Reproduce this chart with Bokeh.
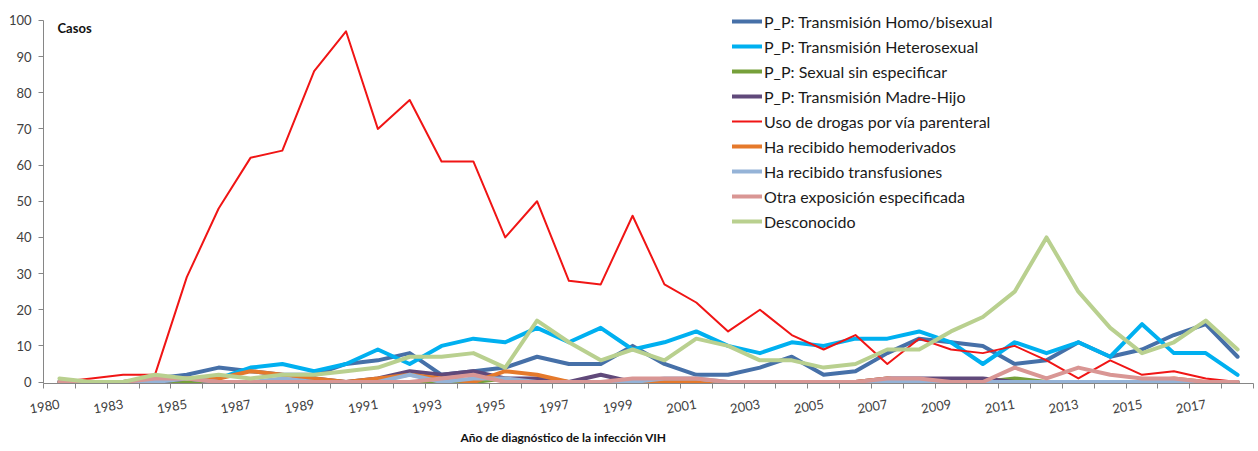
from bokeh.plotting import figure
from bokeh.models import Range1d, FixedTicker, Legend, LegendItem, Label, Title
from bokeh.embed import file_html
from bokeh.resources import INLINE

years = ["1980", "1982", "1983", "1984", "1985", "1986", "1987", "1988", "1989", "1990",
         "1991", "1992", "1993", "1994", "1995", "1996", "1997", "1998", "1999", "2000",
         "2001", "2002", "2003", "2004", "2005", "2006", "2007", "2008", "2009", "2010",
         "2011", "2012", "2013", "2014", "2015", "2016", "2017", "2018"]

homo_bisexual = [0, 0, 0, 1, 2, 4, 3, 2, 2, 5, 6, 8, 2, 3, 4, 7, 5, 5, 10, 5,
                 2, 2, 4, 7, 2, 3, 8, 12, 11, 10, 5, 6, 11, 7, 9, 13, 16, 7]
heterosexual = [0, 0, 0, 0, 0, 1, 4, 5, 3, 5, 9, 5, 10, 12, 11, 15, 11, 15, 9, 11,
                14, 10, 8, 11, 10, 12, 12, 14, 11, 5, 11, 8, 11, 7, 16, 8, 8, 2]
sexual_sin_esp = [0, 0, 0, 0, 0, 0, 0, 0, 0, 0, 0, 0, 0, 0, 1, 0, 0, 0, 0, 0,
                  0, 0, 0, 0, 0, 0, 0, 0, 0, 0, 1, 0, 0, 0, 0, 0, 0, 0]
madre_hijo = [0, 0, 0, 0, 1, 0, 0, 0, 1, 0, 1, 3, 2, 3, 1, 1, 0, 2, 0, 0,
              0, 0, 0, 0, 0, 0, 1, 1, 1, 1, 0, 0, 0, 0, 0, 0, 0, 0]
drogas = [0, 1, 2, 2, 29, 48, 62, 64, 86, 97, 70, 78, 61, 61, 40, 50, 28, 27, 46, 27,
          22, 14, 20, 13, 9, 13, 5, 12, 9, 8, 10, 6, 1, 6, 2, 3, 1, 0]
hemoderivados = [0, 0, 0, 1, 1, 1, 3, 2, 1, 0, 1, 2, 1, 0, 3, 2, 0, 0, 0, 0,
                 0, 0, 0, 0, 0, 0, 1, 0, 0, 0, 0, 0, 0, 0, 0, 1, 0, 0]
transfusiones = [0, 0, 0, 0, 1, 0, 0, 1, 0, 0, 0, 2, 0, 1, 1, 0, 0, 0, 0, 1,
                 1, 0, 0, 0, 0, 0, 0, 0, 0, 0, 0, 0, 0, 0, 0, 0, 0, 0]
otra_exposicion = [0, 0, 0, 1, 1, 0, 0, 0, 0, 0, 0, 0, 1, 2, 0, 0, 0, 0, 1, 1,
                   1, 0, 0, 0, 0, 0, 1, 1, 0, 0, 4, 1, 4, 2, 1, 1, 0, 0]
desconocido = [1, 0, 0, 2, 1, 2, 1, 2, 2, 3, 4, 7, 7, 8, 4, 17, 11, 6, 9, 6,
               12, 10, 6, 6, 4, 5, 9, 9, 14, 18, 25, 40, 25, 15, 8, 11, 17, 9]

series_names = ["P_P: Transmisión Homo/bisexual", "P_P: Transmisión Heterosexual",
                "P_P: Sexual sin especificar", "P_P: Transmisión Madre-Hijo",
                "Uso de drogas por vía parenteral", "Ha recibido hemoderivados",
                "Ha recibido transfusiones", "Otra exposición especificada", "Desconocido"]
series_values = [homo_bisexual, heterosexual, sexual_sin_esp, madre_hijo, drogas,
                 hemoderivados, transfusiones, otra_exposicion, desconocido]
series_colors = ["#4670A8", "#00B0F0", "#76A03A", "#60497A", "#F01515",
                 "#E5792B", "#95B3D7", "#D99694", "#B9D08F"]
series_widths = [4, 4, 4, 4, 2, 4, 4, 4, 4]

y_ticks = list(range(0, 101, 10))

n = len(years)
xs = [i + 0.5 for i in range(n)]

p = figure(width=1258, height=451, output_backend="svg", toolbar_location=None,
           x_range=Range1d(0, n), y_range=Range1d(-0.4, 103.3),
           min_border_left=43, min_border_right=5, min_border_top=8, min_border_bottom=68)
p.outline_line_color = None
p.grid.visible = False
p.background_fill_color = "white"

axis_col = "#868686"
lab_col = "#404040"

# x axis
xa = p.xaxis[0]
xa.ticker = FixedTicker(ticks=[xs[i] for i in range(0, n, 2)], minor_ticks=list(range(0, n + 1)))
xa.major_label_overrides = {xs[i]: years[i] for i in range(0, n, 2)}
xa.major_tick_line_color = None
xa.major_tick_out = 0
xa.major_tick_in = 0
xa.minor_tick_line_color = axis_col
xa.minor_tick_out = 5
xa.minor_tick_in = 0
xa.axis_line_color = axis_col
xa.major_label_orientation = 0.17
xa.major_label_standoff = 15
xa.major_label_text_font = "Lato"
xa.major_label_text_font_size = "13px"
xa.major_label_text_color = lab_col

# y axis
ya = p.yaxis[0]
ya.ticker = FixedTicker(ticks=y_ticks)
ya.bounds = (-0.4, 100)
ya.major_tick_line_color = axis_col
ya.major_tick_out = 5
ya.major_tick_in = 0
ya.minor_tick_line_color = None
ya.axis_line_color = axis_col
ya.major_label_standoff = 7
ya.major_label_text_font = "Lato"
ya.major_label_text_font_size = "13px"
ya.major_label_text_color = lab_col

items = []
for name, vals, col, w in zip(series_names, series_values, series_colors, series_widths):
    r = p.line(xs, vals, line_color=col, line_width=w, line_join="round", line_cap="round")
    items.append(LegendItem(label=name, renderers=[r]))

legend = Legend(items=items, location=(689, 151),
                glyph_width=30, glyph_height=22, label_height=22, spacing=3,
                padding=0, margin=0, border_line_color=None, background_fill_alpha=0,
                label_text_font="Lato", label_text_font_size="16px", label_standoff=2,
                label_text_color="#1a1a1a")
p.add_layout(legend)

p.add_layout(Label(x=14, y=356, x_units="screen", y_units="screen", text="Casos",
                   text_font="Lato", text_font_style="bold", text_font_size="13px",
                   text_baseline="middle", text_color="#111111"))

xtitle = Title(text="Año de diagnóstico de la infección VIH", align="left", offset=417,
               standoff=12, text_font="Lato", text_font_style="bold",
               text_font_size="12px", text_color="#111111")
p.add_layout(xtitle, "below")

open("out.html", "w").write(file_html(p, INLINE))
